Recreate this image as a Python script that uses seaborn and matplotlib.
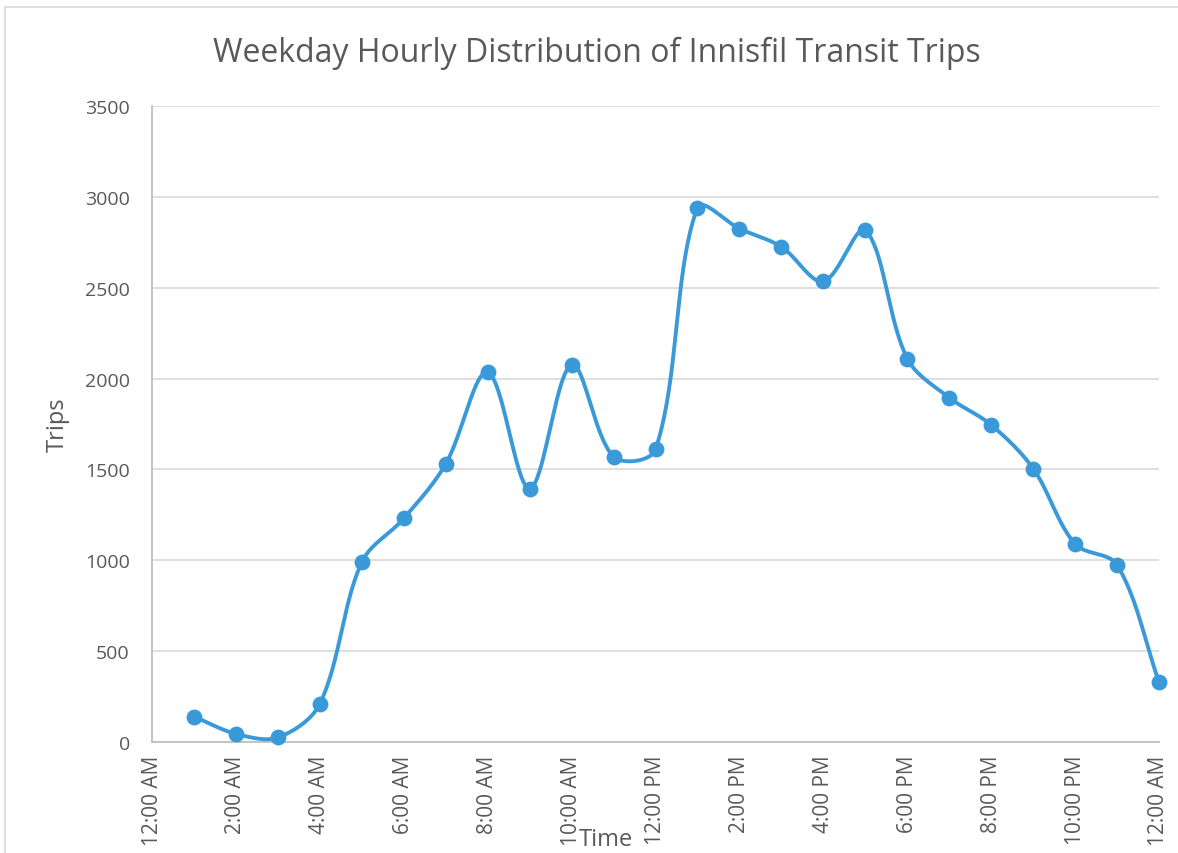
import numpy as np
import pandas as pd
import matplotlib
matplotlib.use("Agg")
import matplotlib.pyplot as plt
from matplotlib.lines import Line2D
import seaborn as sns

# ---- data ----
hours = [1, 2, 3, 4, 5, 6, 7, 8, 9, 10, 11, 12,
         13, 14, 15, 16, 17, 18, 19, 20, 21, 22, 23, 24]
trips = [140, 45, 25, 210, 990, 1230, 1530, 2035, 1395, 2075, 1570, 1610,
         2940, 2825, 2725, 2535, 2815, 2110, 1895, 1745, 1505, 1090, 975, 330]
tick_hours = [0, 2, 4, 6, 8, 10, 12, 14, 16, 18, 20, 22, 24]
tick_labels = ["12:00 AM", "2:00 AM", "4:00 AM", "6:00 AM", "8:00 AM", "10:00 AM",
               "12:00 PM", "2:00 PM", "4:00 PM", "6:00 PM", "8:00 PM", "10:00 PM",
               "12:00 AM"]
y_ticks = [0, 500, 1000, 1500, 2000, 2500, 3000, 3500]

title = "Weekday Hourly Distribution of Innisfil Transit Trips"
xlabel = "Time"
ylabel = "Trips"

LINE = "#3A9AD9"
TXT = "#595959"
GRID = "#D9D9D9"

W, H = 1178, 854
AX_L, AX_R, AX_T, AX_B = 152, 1159, 107, 743
XMAX, YMAX = 24, 3500


def smooth(x, y, n=40):
    """Excel-like smoothed line: Bezier segments whose control points are
    scaled by neighbouring chord lengths (computed in screen space)."""
    sx_ = (AX_R - AX_L) / XMAX
    sy_ = (AX_B - AX_T) / YMAX
    P = np.column_stack([np.asarray(x, float) * sx_, np.asarray(y, float) * sy_])
    n_pts = len(P)
    cin = np.zeros_like(P)
    cout = np.zeros_like(P)
    for i in range(n_pts):
        prev_p = P[i - 1] if i > 0 else P[i]
        next_p = P[i + 1] if i < n_pts - 1 else P[i]
        d = next_p - prev_p
        lp = np.linalg.norm(P[i] - prev_p)
        ln = np.linalg.norm(next_p - P[i])
        tot = lp + ln if lp + ln > 0 else 1
        cin[i] = P[i] - d * (1 / 3) * lp / tot
        cout[i] = P[i] + d * (1 / 3) * ln / tot
    t = np.linspace(0, 1, n)[:, None]
    pts = []
    for i in range(n_pts - 1):
        p0, c1, c2, p3 = P[i], cout[i], cin[i + 1], P[i + 1]
        b = (1 - t) ** 3 * p0 + 3 * (1 - t) ** 2 * t * c1 + 3 * (1 - t) * t ** 2 * c2 + t ** 3 * p3
        pts.append(b)
    pts = np.vstack(pts)
    return pts[:, 0] / sx_, pts[:, 1] / sy_


df = pd.DataFrame({"hour": hours, "trips": trips})
sx, sy = smooth(hours, trips)

sns.set_theme(style="white")
plt.rcParams["font.family"] = ["Open Sans", "DejaVu Sans"]

fig = plt.figure(figsize=(W / 100, H / 100), dpi=100)
ax = fig.add_axes([AX_L / W, 1 - AX_B / H, (AX_R - AX_L) / W, (AX_B - AX_T) / H])

ax.plot(sx, sy, color=LINE, lw=2.8, solid_capstyle="round", clip_on=False, zorder=3)
sns.scatterplot(data=df, x="hour", y="trips", ax=ax, color=LINE, s=130,
                edgecolor=LINE, linewidth=0, zorder=4, clip_on=False)

ax.set_xlim(0, XMAX)
ax.set_ylim(0, YMAX)
ax.set_xticks(tick_hours)
ax.set_xticklabels(tick_labels, rotation=90, va="top", ha="center")
ax.set_yticks(y_ticks)
ax.tick_params(axis="both", length=0, colors=TXT)
ax.tick_params(axis="x", pad=9, labelsize=15)
ax.tick_params(axis="y", pad=16, labelsize=14)
ax.grid(axis="y", color=GRID, lw=1.2)
ax.set_axisbelow(True)
for s in ["top", "right"]:
    ax.spines[s].set_visible(False)
for s in ["left", "bottom"]:
    ax.spines[s].set_color("#BFBFBF")
    ax.spines[s].set_linewidth(1.3)
ax.set_xlabel("")
ax.set_ylabel("")

fig.text(58 / W, 1 - 425 / H, ylabel, rotation=90, ha="center", va="center",
         fontsize=17, color=TXT)
fig.text(606 / W, 1 - 840 / H, xlabel, ha="center", va="center",
         fontsize=17, color=TXT)
fig.text(597 / W, 1 - 53 / H, title, ha="center", va="center", fontsize=23,
         color=TXT)

# outer chart border
fig.add_artist(Line2D([5 / W, 1], [1 - 8 / H, 1 - 8 / H], transform=fig.transFigure,
                      color="#D9D9D9", lw=1.2))
fig.add_artist(Line2D([5 / W, 5 / W], [0, 1 - 8 / H], transform=fig.transFigure,
                      color="#D9D9D9", lw=1.2))

fig.savefig("out.png", dpi=100)
